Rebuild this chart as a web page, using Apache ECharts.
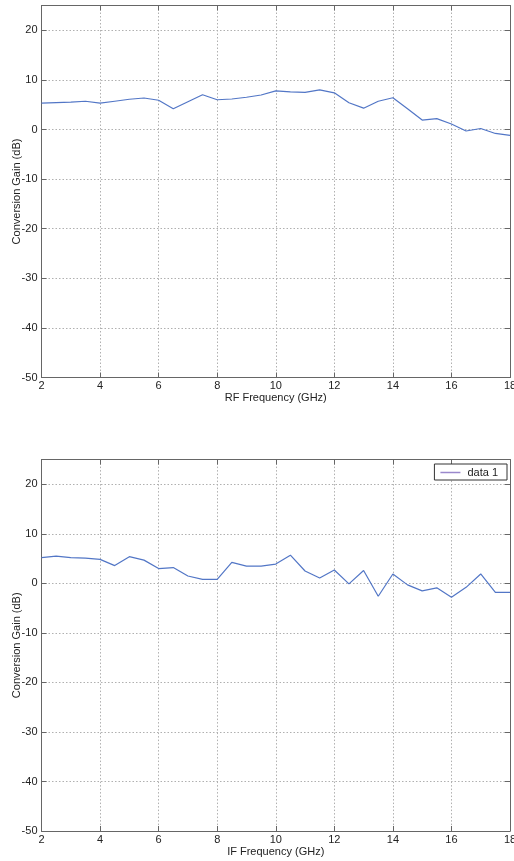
<!DOCTYPE html>
<html>
<head>
<meta charset="utf-8">
<script src="https://cdn.jsdelivr.net/npm/echarts@6/dist/echarts.min.js"></script>
<style>
html,body{margin:0;padding:0;background:#fff;}
#chart{width:514px;height:861px;}
</style>
</head>
<body>
<div id="chart"></div>
<script>
// Data
const freqs = [2,2.5,3,3.5,4,4.5,5,5.5,6,6.5,7,7.5,8,8.5,9,9.5,10,10.5,11,11.5,12,12.5,13,13.5,14,14.5,15,15.5,16,16.5,17,17.5,18];
const rfGain = [5.3,5.4,5.5,5.7,5.3,5.7,6.1,6.35,5.9,4.2,5.6,7.0,6.0,6.15,6.5,6.95,7.8,7.6,7.5,8.0,7.4,5.4,4.3,5.7,6.4,4.2,1.9,2.2,1.1,-0.3,0.2,-0.8,-1.2];
const ifGain = [5.2,5.5,5.2,5.1,4.85,3.6,5.4,4.7,3.0,3.2,1.5,0.8,0.8,4.25,3.5,3.5,3.9,5.7,2.5,1.1,2.7,-0.1,2.6,-2.6,1.9,-0.3,-1.5,-0.9,-2.8,-0.8,1.9,-1.8,-1.8];
const xTitles = ['RF Frequency (GHz)', 'IF Frequency (GHz)'];
const yTitle = 'Conversion Gain (dB)';
const seriesName = 'data 1';

const FONT = 'Liberation Sans, Arial, sans-serif';
const TXT = '#222';
const AX = '#666';
const lineColor = '#5276c6';

function xAx(gi, top) {
  return {
    type: 'value', gridIndex: gi, min: 2, max: 18, interval: 2,
    position: top ? 'top' : 'bottom',
    name: top ? '' : xTitles[gi], nameLocation: 'middle', nameGap: 15,
    nameMoveOverlap: false,
    nameTextStyle: {fontFamily: FONT, fontSize: 11, color: TXT},
    axisLine: {show: true, onZero: false, lineStyle: {color: AX, width: 1}},
    axisTick: {show: true, inside: true, length: 5, lineStyle: {color: AX}},
    axisLabel: {show: !top, fontFamily: FONT, fontSize: 11, color: TXT, margin: 3},
    splitLine: {show: !top, lineStyle: {color: '#b0b0b0', type: [1.5, 2], width: 1}}
  };
}
function yAx(gi, right) {
  return {
    type: 'value', gridIndex: gi, min: -50, max: 25, interval: 10,
    position: right ? 'right' : 'left',
    name: right ? '' : yTitle, nameLocation: 'middle', nameGap: 19, nameRotate: 90,
    nameMoveOverlap: false,
    nameTextStyle: {fontFamily: FONT, fontSize: 11, color: TXT},
    axisLine: {show: true, onZero: false, lineStyle: {color: AX, width: 1}},
    axisTick: {show: true, inside: true, length: 5, lineStyle: {color: AX}},
    axisLabel: {show: !right, showMaxLabel: false, fontFamily: FONT, fontSize: 11, color: TXT, margin: 4},
    splitLine: {show: !right, lineStyle: {color: '#b0b0b0', type: [1.5, 2], width: 1}}
  };
}

const chart = echarts.init(document.getElementById('chart'), null, {renderer: 'canvas'});
chart.setOption({
  backgroundColor: '#ffffff',
  animation: false,
  grid: [
    {left: 41.5, right: 4, top: 5.5, height: 372, show: false, containLabel: false, outerBoundsMode: 'none'},
    {left: 41.5, right: 4, top: 459.6, height: 371.4, show: false, containLabel: false, outerBoundsMode: 'none'}
  ],
  xAxis: [xAx(0, false), xAx(0, true), xAx(1, false), xAx(1, true)],
  yAxis: [yAx(0, false), yAx(0, true), yAx(1, false), yAx(1, true)],
  legend: {
    data: [{name: seriesName, icon: 'rect', itemStyle: {color: '#9a88cc'}}],
    right: 7, top: 464,
    backgroundColor: '#fff', borderColor: '#333', borderWidth: 1,
    padding: [3, 9, 2, 6], itemWidth: 20, itemHeight: 1.5, itemGap: 4,
    textStyle: {fontFamily: FONT, fontSize: 11, color: TXT, padding: [0, 0, 0, 2]}
  },
  series: [
    {type: 'line', name: 'rf', xAxisIndex: 0, yAxisIndex: 0, symbol: 'none',
     data: freqs.map((f, i) => [f, rfGain[i]]),
     lineStyle: {color: lineColor, width: 1.2}, itemStyle: {color: lineColor}},
    {type: 'line', name: seriesName, xAxisIndex: 2, yAxisIndex: 2, symbol: 'none',
     data: freqs.map((f, i) => [f, ifGain[i]]),
     lineStyle: {color: lineColor, width: 1.2}, itemStyle: {color: lineColor}}
  ]
});
</script>
</body>
</html>
